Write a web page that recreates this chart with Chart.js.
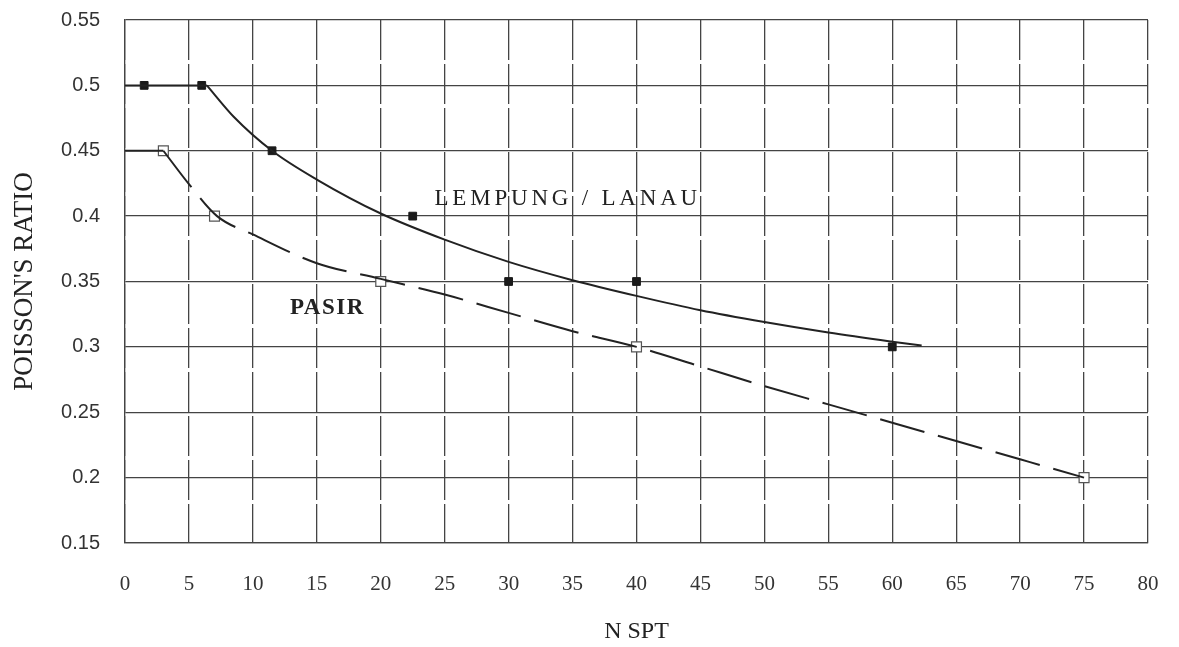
<!DOCTYPE html>
<html lang="id">
<head>
  <meta charset="UTF-8">
  <title>Poisson's Ratio vs N SPT</title>
  <script src="https://cdn.jsdelivr.net/npm/chart.js"></script>
  <style>
    body { margin: 0; background: #fff; }
    #wadah { width: 1179px; height: 647px; }
  </style>
</head>
<body>

<div id="wadah">
  <canvas id="grafik"></canvas>
</div>

<script>
// titik data
const lempungTitikX = [1.5, 6, 11.5, 22.5, 30, 40, 60];
const lempungTitikY = [0.5, 0.5, 0.45, 0.4, 0.35, 0.35, 0.3];
const pasirTitikX = [3, 7, 20, 40, 75];
const pasirTitikY = [0.45, 0.4, 0.35, 0.3, 0.2];

// bagian datar di awal kurva
const lempungDatarX = [0, 6.4];
const lempungDatarY = [0.5, 0.5];
const pasirDatarX = [0, 3];
const pasirDatarY = [0.45, 0.45];

// kurva yang digambar tangan
const lempungKurvaX = [6.4, 8.5, 11.5, 15, 20, 25, 30, 35, 40, 45, 50, 55, 60, 62.3];
const lempungKurvaY = [0.5, 0.476, 0.45, 0.428, 0.402, 0.382, 0.365, 0.351, 0.339, 0.328, 0.319, 0.311, 0.304, 0.301];
const pasirKurvaX = [3, 5, 7.2, 10, 15, 20, 25, 30, 35, 40, 45, 50, 55, 60, 65, 70, 75];
const pasirKurvaY = [0.45, 0.4245, 0.4, 0.386, 0.364, 0.352, 0.34, 0.326, 0.312, 0.3, 0.285, 0.27, 0.256, 0.242, 0.228, 0.214, 0.2];

// label di dalam grafik
const teksLabel = ['LEMPUNG / LANAU', 'PASIR'];
const labelX = [24.2, 12.9];
const labelY = [0.4134, 0.3294];

function pasangan(xs, ys) {
  return xs.map((x, i) => ({ x: x, y: ys[i] }));
}

const labelPlugin = {
  id: 'labelTeks',
  afterDatasetsDraw(chart) {
    const ctx = chart.ctx;
    const sx = chart.scales.x, sy = chart.scales.y;
    ctx.save();
    ctx.fillStyle = '#222';
    ctx.textBaseline = 'middle';
    ctx.textAlign = 'left';
    teksLabel.forEach((t, i) => {
      ctx.font = i === 0 ? '23px "Liberation Serif"' : 'bold 23px "Liberation Serif"';
      ctx.letterSpacing = i === 0 ? '3.8px' : '1.5px';
      ctx.fillText(t, sx.getPixelForValue(labelX[i]), sy.getPixelForValue(labelY[i]));
    });
    ctx.restore();
  }
};

const garis = { showLine: true, borderColor: '#222', borderWidth: 2, pointRadius: 0, cubicInterpolationMode: 'monotone' };

new Chart(document.getElementById('grafik'), {
  type: 'scatter',
  data: {
    datasets: [
      Object.assign({ data: pasangan(lempungDatarX, lempungDatarY) }, garis),
      Object.assign({ data: pasangan(lempungKurvaX, lempungKurvaY) }, garis),
      Object.assign({ data: pasangan(pasirDatarX, pasirDatarY) }, garis),
      Object.assign({ data: pasangan(pasirKurvaX, pasirKurvaY), borderDash: [46, 14] }, garis),
      {
        data: pasangan(lempungTitikX, lempungTitikY),
        pointStyle: 'rect',
        pointRadius: 5.5,
        backgroundColor: '#1a1a1a',
        borderColor: '#1a1a1a',
        borderWidth: 1
      },
      {
        data: pasangan(pasirTitikX, pasirTitikY),
        pointStyle: 'rect',
        pointRadius: 7,
        backgroundColor: '#fff',
        borderColor: '#555',
        borderWidth: 1.2
      }
    ]
  },
  options: {
    responsive: true,
    maintainAspectRatio: false,
    animation: false,
    layout: { padding: { top: 20, right: 31, left: 0, bottom: 0 } },
    plugins: { legend: { display: false }, tooltip: { enabled: false } },
    scales: {
      x: {
        min: 0, max: 80,
        afterFit: s => { s.height = 104; s.paddingLeft = 0; s.paddingRight = 0; },
        ticks: {
          stepSize: 5,
          padding: 29,
          color: '#333',
          font: { family: '"Liberation Serif"', size: 21 }
        },
        grid: { color: '#444', lineWidth: 1.3, drawTicks: false },
        border: { color: '#444', width: 1.3, dash: [40, 4] },
        title: {
          display: true,
          text: 'N SPT',
          color: '#222',
          padding: { top: 0, bottom: 1 },
          font: { family: '"Liberation Serif"', size: 24 }
        }
      },
      y: {
        min: 0.15, max: 0.55,
        afterFit: s => { s.width = 125; s.paddingTop = 0; s.paddingBottom = 0; },
        ticks: {
          stepSize: 0.05,
          padding: 25,
          color: '#333',
          font: { family: '"Liberation Sans"', size: 20 },
          callback: v => String(parseFloat(v.toFixed(2)))
        },
        grid: { color: '#444', lineWidth: 1.3, drawTicks: false },
        border: { color: '#444', width: 1.3 },
        title: {
          display: true,
          text: "POISSON'S RATIO",
          color: '#222',
          padding: { top: 9, bottom: 0 },
          font: { family: '"Liberation Serif"', size: 27 }
        }
      }
    }
  },
  plugins: [labelPlugin]
});
</script>

</body>
</html>
